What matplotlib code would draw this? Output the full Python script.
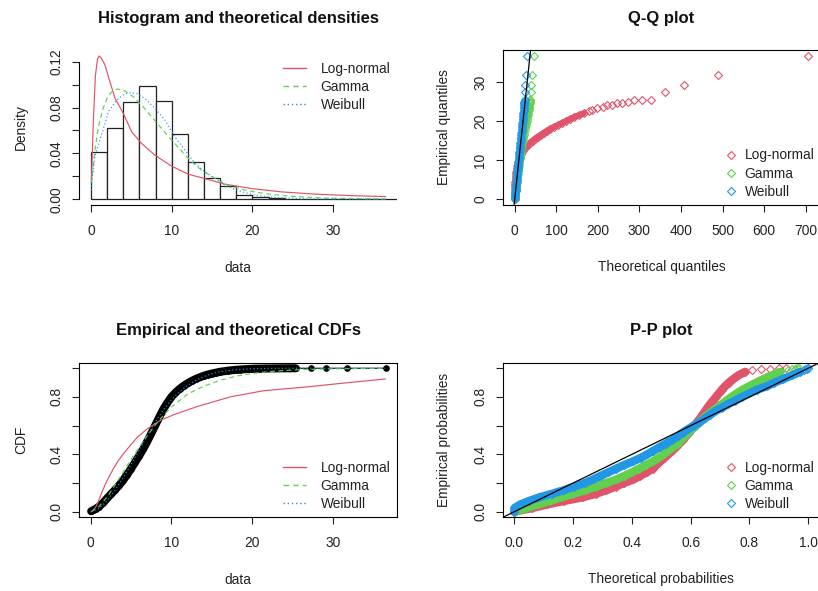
import matplotlib
matplotlib.use("Agg")
import matplotlib.pyplot as plt
from matplotlib.lines import Line2D

plt.rcParams['font.family'] = ['Liberation Sans', 'DejaVu Sans']

# ---------------- data ----------------
dist_names = ["Log-normal", "Gamma", "Weibull"]
dist_colors = ["#DF536B", "#61D04F", "#2297E6"]
dist_styles = ["-", (0, (4, 3)), (0, (1, 2))]

# histogram (density scale), breaks every 2 units
hist_breaks = [0, 2, 4, 6, 8, 10, 12, 14, 16, 18, 20, 22, 24, 26, 28, 30, 32, 34, 36, 38]
hist_density = [0.0413, 0.0617, 0.0844, 0.0987, 0.0856, 0.0571, 0.0329, 0.0189, 0.0114,
                0.0041, 0.0015, 0.0008, 0.0006, 0.0002, 0.0001, 0.0001, 0.0, 0.0, 0.0001]

dens_lnorm_x = [0.05, 0.3, 0.55, 0.8, 1.0, 1.3, 1.74, 2.15, 2.98, 4.0, 5.04, 6.28, 7.93, 10.0,
                12.07, 14.5, 16.6, 19.9, 23.6, 27.8, 32.3, 36.5]
dens_lnorm_y = [0.015, 0.07, 0.108, 0.122, 0.125, 0.123, 0.117, 0.107, 0.088, 0.075, 0.0588,
                0.0486, 0.0384, 0.0288, 0.0218, 0.0172, 0.0131, 0.0093, 0.0064, 0.0044, 0.0031, 0.0023]
dens_gamma_x = [0.05, 0.5, 0.91, 1.53, 2.15, 2.7, 3.3, 4.2, 5.25, 6.28, 7.52, 8.76, 10.0, 11.24,
                12.48, 13.7, 15.4, 17.0, 19.1, 22.0, 25.3, 29.4, 36.5]
dens_gamma_y = [0.014, 0.043, 0.063, 0.08, 0.0905, 0.0945, 0.0962, 0.0946, 0.0894, 0.0821, 0.0719,
                0.0617, 0.0515, 0.0419, 0.0326, 0.0253, 0.018, 0.0122, 0.0079, 0.0044, 0.0023, 0.0009, 0.0002]
dens_weib_x = [0.05, 0.1, 0.5, 1.03, 1.73, 2.15, 3.18, 4.0, 4.63, 5.66, 6.7, 7.93, 9.17, 10.4,
               11.65, 12.9, 14.1, 15.4, 16.6, 18.3, 20.3, 22.8, 26.9, 36.5]
dens_weib_y = [0.008, 0.015, 0.038, 0.05, 0.066, 0.0763, 0.0864, 0.091, 0.0931, 0.0922, 0.0879,
               0.0792, 0.069, 0.0544, 0.0428, 0.0311, 0.0239, 0.018, 0.0122, 0.0073, 0.0035, 0.0015, 0.0003, 0.0]

# Q-Q plot: empirical quantiles and theoretical quantiles of each fit
qq_empirical = [0.05, 0.5, 1.0, 1.5, 2.0, 2.5, 3.0, 3.5, 4.0, 4.5, 5.0, 5.5, 6.0, 6.5, 7.0, 7.5,
                8.0, 8.5, 9.0, 9.5, 10.0, 10.5, 11.0, 11.5, 12.0, 12.5, 13.0, 13.5, 14.0, 14.5,
                15.0, 15.5, 16.0, 16.5, 17.0, 17.5, 18.0, 18.5, 19.0, 19.5, 20.0, 20.5, 21.0,
                21.5, 22.0,
                22.5, 22.8, 23.3, 23.6, 24.0, 24.2, 24.55, 24.7, 25.0, 25.3, 25.5, 25.5, 27.4,
                29.2, 31.7, 36.7]
qq_lnorm = [0.05, 0.08, 0.15, 0.27, 0.4, 0.6, 0.8, 1.1, 1.4, 1.75, 2.1, 2.5, 3.0, 3.5, 4.1, 4.8,
            5.6, 6.6, 7.8, 9.1, 10.5, 12, 13.5, 15.5, 18, 21, 24, 27.5, 32, 37, 43, 49, 55.5,
            62.5, 70, 77, 85, 94, 104, 114, 123, 133, 143, 154, 166,
            179, 187, 199, 212, 223, 235, 247, 257, 272, 287, 306, 328, 362, 408, 490, 706]
qq_gamma = [0.1, 0.45, 0.9, 1.35, 1.8, 2.3, 2.8, 3.35, 3.9, 4.45, 5.0, 5.6, 6.2, 6.8, 7.4, 8.0,
            8.6, 9.25, 9.9, 10.55, 11.2, 11.85, 12.5, 13.25, 14.0, 14.75, 15.5, 16.25, 17.0,
            17.9, 18.8, 19.6, 20.5, 21.5, 22.5, 23.5, 24.5, 25.5, 26.5, 27.5, 28.5, 29.5, 30.3,
            31.1, 32.0,
            33.0, 33.5, 34.0, 34.4, 35.0, 35.3, 35.8, 36.0, 36.5, 37.0, 37.3, 37.7, 38.5, 40.0,
            41.5, 46.5]
qq_weibull = [0.3, 0.75, 1.2, 1.7, 2.2, 2.65, 3.1, 3.55, 4.0, 4.45, 4.9, 5.35, 5.8, 6.25, 6.7,
              7.15, 7.6, 8.05, 8.5, 8.95, 9.4, 9.85, 10.3, 10.75, 11.2, 11.65, 12.1, 12.55, 13.0,
              13.5, 14.0, 14.5, 15.0, 15.5, 16.0, 16.5, 17.0, 17.5, 18.0, 18.5, 19.0, 19.4, 19.8,
              20.2, 20.6,
              21.2, 21.5, 21.9, 22.2, 22.5, 22.7, 23.0, 23.2, 23.5, 23.8, 24.0, 24.1, 24.9, 25.7,
              27.3, 30.5]
qq_dense_count = 45

# empirical CDF
ecdf_x = [0.05, 0.3, 0.6, 1.0, 1.5, 2.0, 2.5, 3.0, 3.5, 4.0, 4.5, 5.0, 5.5, 6.0, 6.5, 7.0, 7.5,
          8.0, 8.5, 9.0, 9.5, 10.0, 10.5, 11.0, 11.5, 12.0, 12.5, 13.0, 13.5, 14.0, 14.5, 15.0,
          15.5, 16.0, 16.5, 17.0, 17.5, 18.0, 18.5, 19.0, 19.5, 20.0, 20.5, 21.0, 21.5, 22.0,
          22.5, 23.0, 23.5, 24.0, 24.5, 25.0, 25.4, 27.3, 29.2, 31.7, 36.6]
ecdf_y = [0.003, 0.01, 0.02, 0.035, 0.06, 0.092, 0.122, 0.152, 0.183, 0.218, 0.258, 0.3, 0.345,
          0.39, 0.437, 0.49, 0.545, 0.603, 0.66, 0.715, 0.76, 0.8, 0.83, 0.856, 0.877, 0.895,
          0.911, 0.925, 0.937, 0.947, 0.956, 0.963, 0.969, 0.975, 0.979, 0.983, 0.986, 0.989,
          0.991, 0.993, 0.9945, 0.996, 0.997, 0.9975, 0.998, 0.9985, 0.9988, 0.999, 0.9993,
          0.9995, 0.9996, 0.9997, 0.9997, 0.9998, 0.9998, 0.9999, 1.0]
ecdf_dense_count = 53

cdf_lnorm_x = [0.05, 0.3, 0.6, 1.0, 1.56, 2.0, 2.8, 3.4, 4.0, 4.87, 5.8, 6.94, 8.59, 10.24,
               13.14, 17.27, 21.4, 27.0, 31.1, 36.5]
cdf_lnorm_y = [0.0, 0.01, 0.03, 0.08, 0.16, 0.215, 0.3, 0.355, 0.4, 0.46, 0.52, 0.575, 0.635,
               0.675, 0.732, 0.8, 0.843, 0.871, 0.895, 0.925]
cdf_gamma_x = [0.05, 1, 2, 3, 4, 5, 6, 7, 8, 9, 10, 12, 14, 16, 18, 20, 22, 25, 30, 36.5]
cdf_gamma_y = [0.0, 0.035, 0.1, 0.185, 0.275, 0.365, 0.45, 0.53, 0.605, 0.67, 0.73, 0.82, 0.875,
               0.915, 0.945, 0.963, 0.976, 0.988, 0.996, 0.999]
cdf_weib_x = [0.05, 1, 2, 3, 4, 5, 6, 7, 8, 9, 10, 11, 12, 13, 14, 15, 16, 18, 20, 22, 25, 36.5]
cdf_weib_y = [0.0, 0.022, 0.075, 0.15, 0.235, 0.33, 0.43, 0.53, 0.625, 0.71, 0.78, 0.835, 0.88,
              0.915, 0.942, 0.962, 0.976, 0.99, 0.997, 0.999, 1.0, 1.0]

# P-P plot: empirical probabilities and theoretical probabilities of each fit
pp_empirical = [0.0, 0.025, 0.05, 0.075, 0.1, 0.125, 0.15, 0.175, 0.2, 0.225, 0.25, 0.275, 0.3,
                0.325, 0.35, 0.375, 0.4, 0.425, 0.45, 0.475, 0.5, 0.525, 0.55, 0.575, 0.6, 0.625,
                0.65, 0.675, 0.7, 0.725, 0.75, 0.775, 0.8, 0.825, 0.85, 0.875, 0.9, 0.925, 0.95,
                0.975, 0.99, 0.995, 0.998, 0.999, 1.0]
pp_lnorm = [0.0, 0.06, 0.11, 0.17, 0.232, 0.278, 0.313, 0.345, 0.373, 0.405, 0.428, 0.45, 0.47,
            0.483, 0.497, 0.51, 0.524, 0.537, 0.55, 0.561, 0.573, 0.583, 0.593, 0.603, 0.613,
            0.622, 0.632, 0.64, 0.649, 0.657, 0.666, 0.676, 0.686, 0.696, 0.706, 0.717, 0.73,
            0.745, 0.762, 0.785, 0.81, 0.84, 0.87, 0.9, 0.925]
pp_gamma = [0.003, 0.04, 0.08, 0.12, 0.16, 0.2, 0.242, 0.278, 0.312, 0.348, 0.375, 0.4, 0.424,
            0.447, 0.471, 0.49, 0.508, 0.524, 0.54, 0.555, 0.567, 0.579, 0.592, 0.604, 0.617,
            0.63, 0.642, 0.657, 0.673, 0.69, 0.706, 0.722, 0.739, 0.757, 0.776, 0.8, 0.823,
            0.848, 0.875, 0.905, 0.93, 0.945, 0.955, 0.962, 0.97]
pp_weibull = [0.0, 0.0, 0.02, 0.05, 0.085, 0.128, 0.168, 0.203, 0.24, 0.268, 0.294, 0.32, 0.346,
              0.373, 0.403, 0.43, 0.452, 0.473, 0.494, 0.515, 0.537, 0.555, 0.572, 0.591, 0.61,
              0.63, 0.648, 0.665, 0.683, 0.705, 0.727, 0.752, 0.775, 0.8, 0.825, 0.86, 0.885,
              0.915, 0.945, 0.972, 0.985, 0.99, 0.995, 0.998, 0.999]
pp_dense_count = 40

# ---------------- figure ----------------
W, H = 818, 591
fig = plt.figure(figsize=(W / 100, H / 100), dpi=100)
FS = 9.9      # ~13.7 px
TFS = 12.0    # ~16.7 px
MS = 3.6


def add_ax(l, t, r, b):
    return fig.add_axes([l / W, 1 - b / H, (r - l) / W, (b - t) / H])


def style(ax, xt, xl, yt, yl):
    for s in ax.spines.values():
        s.set_linewidth(0.8)
        s.set_color("black")
    ax.set_xticks(xt, xl)
    ax.set_yticks(yt, yl)
    ax.tick_params(direction="out", length=5, width=0.8, labelsize=FS, colors="#222222")
    ax.tick_params(axis="x", pad=8.5)
    ax.tick_params(axis="y", pad=6.2)
    for lab in ax.get_yticklabels():
        lab.set_rotation(90)
        lab.set_va("center")


def labels(ax, l, t, r, b, title, xlabel, ylabel, title_y, xlab_y, ylab_x):
    ax.set_xlabel(xlabel, fontsize=FS, color="#222222")
    ax.xaxis.label.set_va("baseline")
    ax.xaxis.set_label_coords(0.5, (b - xlab_y) / (b - t))
    ax.set_ylabel(ylabel, fontsize=FS, color="#222222")
    ax.yaxis.label.set_va("baseline")
    ax.yaxis.set_label_coords((ylab_x - l) / (r - l), 0.5)
    fig.text(((l + r) / 2) / W, 1 - title_y / H, title, ha="center", va="baseline",
             fontsize=TFS, fontweight="bold", color="#111111")


def legend(ax, handles, x, y, hl, htp):
    ax.legend(handles, dist_names, loc="upper left", bbox_to_anchor=(x / W, 1 - y / H),
              bbox_transform=fig.transFigure, frameon=False, borderpad=0, borderaxespad=0,
              handlelength=hl, handletextpad=htp, labelspacing=0.3, fontsize=FS,
              labelcolor="#222222")


line_handles = [Line2D([], [], color=c, ls=s, lw=1.0) for c, s in zip(dist_colors, dist_styles)]
mark_handles = [Line2D([], [], color=c, ls="none", marker="D", ms=MS, mfc="none", mew=0.8)
                for c in dist_colors]

# ---- Panel 1: histogram and densities ----
l, t, r, b = 79.2, 48.4, 397.3, 205.0
ax1 = add_ax(l, t, r, b)
ax1.bar(hist_breaks[:-1], hist_density,
        width=[hist_breaks[i + 1] - hist_breaks[i] for i in range(len(hist_density))],
        align="edge", facecolor="white", edgecolor="#222222", linewidth=0.9)
for xs, ys, c, s in zip([dens_lnorm_x, dens_gamma_x, dens_weib_x],
                        [dens_lnorm_y, dens_gamma_y, dens_weib_y], dist_colors, dist_styles):
    ax1.plot(xs, ys, color=c, ls=s, lw=0.85)
ax1.set_xlim(-1.46, 37.96)
ax1.set_ylim(-0.00506, 0.1316)
style(ax1, [0, 10, 20, 30], ["0", "10", "20", "30"],
      [0, 0.02, 0.04, 0.06, 0.08, 0.10, 0.12], ["0.00", "", "0.04", "", "0.08", "", "0.12"])
ax1.spines["top"].set_visible(False)
ax1.spines["right"].set_visible(False)
ax1.spines["bottom"].set_bounds(0, 30)
ax1.spines["left"].set_bounds(0, 0.12)
labels(ax1, l, t, r, b, "Histogram and theoretical densities", "data", "Density", 22.5, 271.5, 25.0)
legend(ax1, line_handles, 283, 62.0, 1.68, 1.05)

# ---- Panel 2: Q-Q plot ----
l, t, r, b = 502.7, 50.0, 820.0, 205.0
ax2 = add_ax(l, t, r, b)
for th, c in zip([qq_lnorm, qq_gamma, qq_weibull], dist_colors):
    ax2.plot(th[:qq_dense_count], qq_empirical[:qq_dense_count], color=c, lw=4.4,
             solid_capstyle="round", solid_joinstyle="round")
    ax2.plot(th, qq_empirical, ls="none", marker="D", ms=MS, mfc="none", mec=c, mew=0.8)
ax2.axline((0, 0), slope=1, color="black", lw=0.9)
ax2.set_xlim(-28.87, 734.4)
ax2.set_ylim(-1.458, 38.18)
style(ax2, [0, 100, 200, 300, 400, 500, 600, 700],
      ["0", "100", "200", "300", "400", "500", "600", "700"],
      [0, 10, 20, 30], ["0", "10", "20", "30"])
labels(ax2, l, t, r, b, "Q-Q plot", "Theoretical quantiles", "Empirical quantiles", 22.5, 271.5, 448.0)
legend(ax2, mark_handles, 725, 148.5, 0.87, 0.55)

# ---- Panel 3: CDFs ----
l, t, r, b = 79.0, 362.5, 397.0, 517.4
ax3 = add_ax(l, t, r, b)
ax3.plot(ecdf_x[:ecdf_dense_count], ecdf_y[:ecdf_dense_count], color="black", lw=5.8,
         solid_capstyle="round", solid_joinstyle="round")
ax3.plot(ecdf_x, ecdf_y, color="black", lw=0.8, marker="o", ms=3.8, mfc="black", mec="black")
for xs, ys, c, s in zip([cdf_lnorm_x, cdf_gamma_x, cdf_weib_x],
                        [cdf_lnorm_y, cdf_gamma_y, cdf_weib_y], dist_colors, dist_styles):
    ax3.plot(xs, ys, color=c, ls=s, lw=0.85)
ax3.set_xlim(-1.46, 37.96)
ax3.set_ylim(-0.04, 1.04)
style(ax3, [0, 10, 20, 30], ["0", "10", "20", "30"],
      [0, 0.2, 0.4, 0.6, 0.8, 1.0], ["0.0", "", "0.4", "", "0.8", ""])
labels(ax3, l, t, r, b, "Empirical and theoretical CDFs", "data", "CDF", 335.2, 583.5, 25.5)
legend(ax3, line_handles, 283, 461.0, 1.68, 1.05)

# ---- Panel 4: P-P plot ----
l, t, r, b = 502.7, 362.5, 820.0, 517.4
ax4 = add_ax(l, t, r, b)
for th, c in zip([pp_lnorm, pp_gamma, pp_weibull], dist_colors):
    ax4.plot(th[:pp_dense_count], pp_empirical[:pp_dense_count], color=c, lw=6.0,
             solid_capstyle="round", solid_joinstyle="round")
    ax4.plot(th, pp_empirical, ls="none", marker="D", ms=MS, mfc="none", mec=c, mew=0.8)
ax4.axline((0, 0), (1, 1), color="black", lw=0.9)
ax4.set_xlim(-0.04, 1.04)
ax4.set_ylim(-0.04, 1.04)
style(ax4, [0, 0.2, 0.4, 0.6, 0.8, 1.0], ["0.0", "0.2", "0.4", "0.6", "0.8", "1.0"],
      [0, 0.2, 0.4, 0.6, 0.8, 1.0], ["0.0", "", "0.4", "", "0.8", ""])
labels(ax4, l, t, r, b, "P-P plot", "Theoretical probabilities", "Empirical probabilities",
       335.2, 583.5, 448.0)
legend(ax4, mark_handles, 725, 461.0, 0.87, 0.55)

fig.savefig("out.png", dpi=100, facecolor="white")
